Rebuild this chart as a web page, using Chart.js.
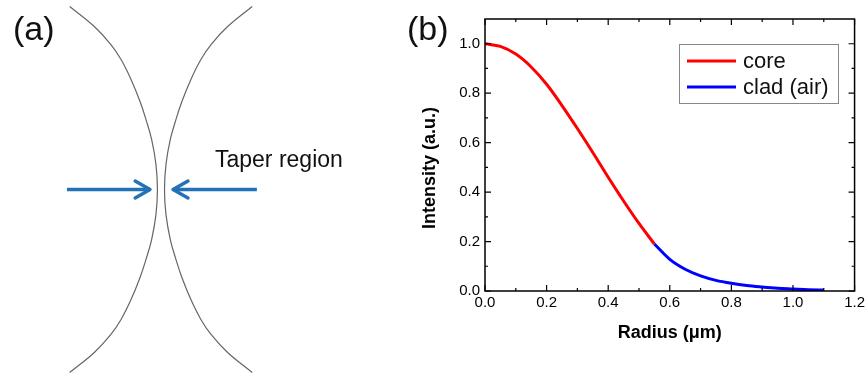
<!DOCTYPE html>
<html>
<head>
<meta charset="utf-8">
<script src="https://cdn.jsdelivr.net/npm/chart.js@4.4.0/dist/chart.umd.min.js"></script>
<style>
  html, body { margin: 0; padding: 0; background: #fff; overflow: hidden; }
  #wrap { position: relative; width: 868px; height: 375px; }
  #taper { position: absolute; left: 0; top: 2px; }
  #profile { position: absolute; left: 400px; top: 0; }
</style>
</head>
<body>
<div id="wrap">
  <canvas id="taper" width="400" height="375"></canvas>
  <canvas id="profile" width="468" height="375"></canvas>
</div>
<script>
// (b) mode intensity profile
const coreRadius = [0, 0.05, 0.1, 0.15, 0.2, 0.25, 0.3, 0.35, 0.4, 0.45, 0.5, 0.55];
const coreIntensity = [1.0, 0.989, 0.958, 0.906, 0.836, 0.75, 0.657, 0.56, 0.46, 0.364, 0.273, 0.19];
const cladRadius = [0.55, 0.6, 0.65, 0.7, 0.75, 0.8, 0.85, 0.9, 0.95, 1.0, 1.05, 1.1];
const cladIntensity = [0.19, 0.128, 0.088, 0.061, 0.043, 0.031, 0.022, 0.016, 0.011, 0.008, 0.005, 0.004];
const xTickValues = [0, 0.2, 0.4, 0.6, 0.8, 1.0, 1.2];
const yTickValues = [0, 0.2, 0.4, 0.6, 0.8, 1.0];

// (a) taper outline: axial position vs half width (arbitrary units)
const taperZ = [0.976, 0.869, 0.773, 0.693, 0.587, 0.469, 0.373, 0.267, 0.133, 0];
const taperHalfWidth = [0.567, 0.414, 0.311, 0.248, 0.186, 0.130, 0.093, 0.058, 0.031, 0.022];

const FONT = "'Liberation Sans', Arial, sans-serif";

function pts(xs, ys) {
    return xs.map((x, i) => ({x: x, y: ys[i]}));
}

// full outline, top to bottom
function outline(side) {
    const out = [];
    for (let i = 0; i < taperZ.length; i++) out.push({x: side * taperHalfWidth[i], y: taperZ[i]});
    for (let i = taperZ.length - 2; i >= 0; i--) out.push({x: side * taperHalfWidth[i], y: -taperZ[i]});
    return out;
}

const arrowBlue = '#2272b9';
const arrowShaftL = [{x: -0.584, y: 0}, {x: -0.068, y: 0}];
const arrowHeadL = [{x: -0.16, y: 0.045}, {x: -0.068, y: 0}, {x: -0.16, y: -0.045}];
const arrowShaftR = [{x: 0.596, y: 0}, {x: 0.075, y: 0}];
const arrowHeadR = [{x: 0.168, y: 0.045}, {x: 0.075, y: 0}, {x: 0.168, y: -0.045}];

const labelPlugin = {
    id: 'labels',
    afterDraw(chart, args, opts) {
        const ctx = chart.ctx;
        ctx.save();
        ctx.fillStyle = '#111';
        ctx.textBaseline = 'alphabetic';
        ctx.textAlign = 'left';
        (opts.items || []).forEach(t => {
            ctx.font = t.size + 'px ' + FONT;
            ctx.fillText(t.text, t.x, t.y);
        });
        ctx.restore();
    }
};

const schematicLine = (data, color, width) => ({
    data: data, borderColor: color, borderWidth: width, showLine: true,
    pointRadius: 0, fill: false, tension: 0.4
});

new Chart(document.getElementById('taper'), {
    type: 'scatter',
    data: {
        datasets: [
            schematicLine(outline(-1), '#666', 1.2),
            schematicLine(outline(1), '#666', 1.2),
            Object.assign(schematicLine(arrowShaftL, arrowBlue, 3.5), {tension: 0}),
            Object.assign(schematicLine(arrowHeadL, arrowBlue, 3.5), {tension: 0, borderCapStyle: 'round', borderJoinStyle: 'round'}),
            Object.assign(schematicLine(arrowShaftR, arrowBlue, 3.5), {tension: 0}),
            Object.assign(schematicLine(arrowHeadR, arrowBlue, 3.5), {tension: 0, borderCapStyle: 'round', borderJoinStyle: 'round'})
        ]
    },
    options: {
        responsive: false,
        animation: false,
        devicePixelRatio: 1,
        layout: {padding: 0},
        scales: {
            x: {type: 'linear', min: -1, max: 1.485, display: false},
            y: {type: 'linear', min: -1, max: 1, display: false}
        },
        plugins: {
            legend: {display: false},
            tooltip: {enabled: false},
            labels: {items: [
                {text: '(a)', x: 13, y: 38, size: 34},
                {text: 'Taper region', x: 215, y: 165, size: 23}
            ]}
        }
    },
    plugins: [labelPlugin]
});

// frame, inward ticks, y title and boxed legend for (b)
const framePlugin = {
    id: 'frame',
    afterDraw(chart) {
        const ctx = chart.ctx;
        const a = chart.chartArea;
        const xs = chart.scales.x, ys = chart.scales.y;
        ctx.save();
        ctx.strokeStyle = '#000';
        ctx.lineWidth = 1.5;
        ctx.strokeRect(a.left, a.top, a.right - a.left, a.bottom - a.top);
        ctx.lineWidth = 1.2;
        ctx.beginPath();
        const xMinor = xTickValues.slice(1).map((v, i) => (v + xTickValues[i]) / 2);
        const yMinor = yTickValues.slice(1).map((v, i) => (v + yTickValues[i]) / 2);
        const tickX = (v, len) => {
            const p = xs.getPixelForValue(v);
            ctx.moveTo(p, a.bottom); ctx.lineTo(p, a.bottom - len);
            ctx.moveTo(p, a.top); ctx.lineTo(p, a.top + len);
        };
        const tickY = (v, len) => {
            const p = ys.getPixelForValue(v);
            ctx.moveTo(a.left, p); ctx.lineTo(a.left + len, p);
            ctx.moveTo(a.right, p); ctx.lineTo(a.right - len, p);
        };
        xTickValues.forEach(v => tickX(v, 6));
        xMinor.forEach(v => tickX(v, 3));
        yTickValues.forEach(v => tickY(v, 6));
        yMinor.forEach(v => tickY(v, 3));
        ctx.stroke();

        // y axis title, sitting a little below the axis centre as in the original
        ctx.save();
        ctx.translate(30, 168);
        ctx.rotate(-Math.PI / 2);
        ctx.font = 'bold 18px ' + FONT;
        ctx.fillStyle = '#000';
        ctx.textAlign = 'center';
        ctx.textBaseline = 'middle';
        ctx.fillText('Intensity (a.u.)', 0, 0);
        ctx.restore();

        // legend
        const lx = 279, ly = 44, lw = 159, lh = 59;
        ctx.strokeStyle = '#888';
        ctx.lineWidth = 1;
        ctx.strokeRect(lx + 0.5, ly + 0.5, lw, lh);
        ctx.font = '22px ' + FONT;
        ctx.textBaseline = 'middle';
        ctx.fillStyle = '#111';
        chart.data.datasets.forEach((ds, i) => {
            const y = ly + 17 + i * 26;
            ctx.strokeStyle = ds.borderColor;
            ctx.lineWidth = 3;
            ctx.beginPath();
            ctx.moveTo(lx + 8, y); ctx.lineTo(lx + 57, y);
            ctx.stroke();
            ctx.fillText(ds.label, lx + 64, y + 1);
        });
        ctx.restore();
    }
};

new Chart(document.getElementById('profile'), {
    type: 'line',
    data: {
        datasets: [
            {label: 'core', data: pts(coreRadius, coreIntensity), borderColor: '#ff0000',
             borderWidth: 3, pointRadius: 0, cubicInterpolationMode: 'monotone'},
            {label: 'clad (air)', data: pts(cladRadius, cladIntensity), borderColor: '#0000ff',
             borderWidth: 3, pointRadius: 0, cubicInterpolationMode: 'monotone'}
        ]
    },
    options: {
        responsive: false,
        animation: false,
        devicePixelRatio: 1,
        layout: {padding: {left: 0, right: 12, top: 19, bottom: 0}},
        scales: {
            x: {
                type: 'linear', min: 0, max: 1.2,
                grid: {display: false, drawTicks: false},
                border: {display: false},
                afterBuildTicks: s => { s.ticks = xTickValues.map(v => ({value: v})); },
                afterFit: s => { s.height = 84; },
                ticks: {padding: 3, color: '#000', font: {family: FONT, size: 15},
                        callback: v => Number(v).toFixed(1), maxRotation: 0, autoSkip: false},
                title: {display: true, text: 'Radius (μm)', color: '#000',
                        font: {family: FONT, size: 18, weight: 'bold'}, padding: {top: 0, bottom: 31}}
            },
            y: {
                type: 'linear', min: 0, max: 1.1,
                grid: {display: false, drawTicks: false},
                border: {display: false},
                afterBuildTicks: s => { s.ticks = yTickValues.map(v => ({value: v})); },
                afterFit: s => { s.width = 85; },
                ticks: {padding: 5, color: '#000', font: {family: FONT, size: 15},
                        callback: v => Number(v).toFixed(1)},
                title: {display: false}
            }
        },
        plugins: {
            legend: {display: false},
            tooltip: {enabled: false},
            labels: {items: [{text: '(b)', x: 7, y: 40, size: 34}]}
        }
    },
    plugins: [framePlugin, labelPlugin]
});
</script>
</body>
</html>
